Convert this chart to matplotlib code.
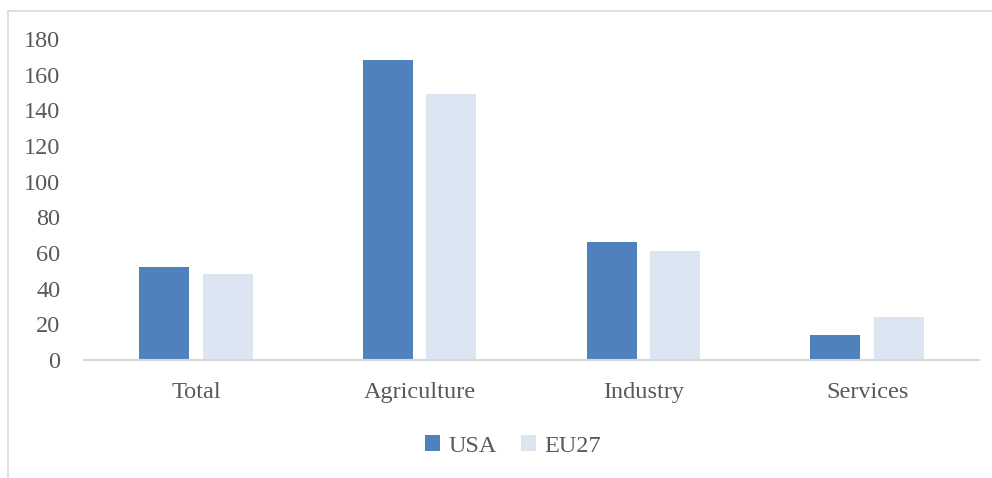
import matplotlib.pyplot as plt
import numpy as np
from matplotlib.lines import Line2D

categories = ["Total", "Agriculture", "Industry", "Services"]
usa = [52, 168, 66, 14]
eu27 = [48.5, 149, 61, 24]
series_names = ["USA", "EU27"]

plt.rcParams['font.family'] = ['Liberation Serif', 'DejaVu Serif']
grey = '#595959'

fig = plt.figure(figsize=(9.92, 4.78), dpi=100)
ax = fig.add_axes([84/992, 1-360/478, (979-84)/992, (360-39)/478])

x = np.arange(len(categories))
w = 0.223
off = 0.142
ax.bar(x - off, usa, w, color='#4f81bd', label=series_names[0])
ax.bar(x + off, eu27, w, color='#dce6f2', label=series_names[1])

ax.set_xlim(-0.5, len(categories) - 0.5)
ax.set_ylim(0, 180)
ax.set_yticks(range(0, 181, 20))
ax.set_xticks(x)
ax.set_xticklabels(categories)
ax.tick_params(axis='both', length=0, labelsize=17.5, colors=grey)
ax.tick_params(axis='y', pad=17)
ax.tick_params(axis='x', pad=16)
for s in ['top', 'right', 'left']:
    ax.spines[s].set_visible(False)
ax.spines['bottom'].set_color('#d9d9d9')
ax.spines['bottom'].set_linewidth(1.5)

# outer chart frame (only top and left visible)
fig.add_artist(Line2D([8/992, 8/992], [0, 1-11/478], color='#d9d9d9', lw=1.2))
fig.add_artist(Line2D([8/992, 1], [1-11/478, 1-11/478], color='#d9d9d9', lw=1.2))

ax.legend(loc='center', bbox_to_anchor=(513/992, 1-446/478), bbox_transform=fig.transFigure,
          ncol=2, frameon=False, fontsize=17.5, labelcolor=grey, handlelength=0.6,
          handleheight=0.6, handletextpad=0.35, columnspacing=1.0)

plt.savefig("out.png", dpi=100)
